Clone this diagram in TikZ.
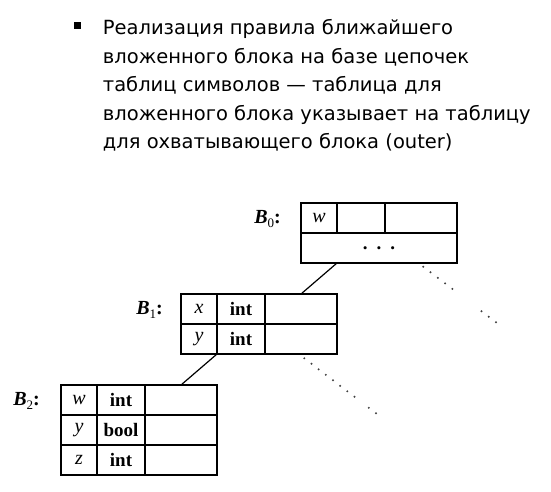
\documentclass[tikz,border=0pt]{standalone}
\usepackage{fontspec}
\usetikzlibrary{calc}
\setmainfont{Liberation Serif}
\newfontfamily\headfont{DejaVu Sans}
\begin{document}
\begin{tikzpicture}[x=1pt,y=-1pt,
  cell/.style={draw, line width=1.2pt, minimum height=30pt, inner sep=0pt, outer sep=0pt, anchor=north west, font=\fontsize{19}{21}\selectfont},
  var/.style={font=\fontsize{20}{22}\selectfont\itshape},
  typ/.style={font=\fontsize{19}{21}\selectfont\bfseries},
  headline/.style={anchor=base west, inner sep=0pt, font=\headfont\fontsize{19.5}{24}\selectfont, text=black},
  lab/.style={anchor=east, inner sep=0pt, font=\fontsize{20}{22}\selectfont},
  link/.style={line width=1.2pt},
  dotmark/.style={fill=black!75, draw=none}
]
\useasboundingbox (0,0) rectangle (551,491);
% heading
\fill[black] (73.5,22.2) rectangle (80.5,29.2);
\node[headline] (h1) at (102.7,34.3) {Реализация правила ближайшего};
\node[headline] (h2) at (102.7,63) {вложенного блока на базе цепочек};
\node[headline] (h3) at (102.7,91.5) {таблиц символов — таблица для};
\node[headline] (h4) at (102.7,120) {вложенного блока указывает на таблицу};
\node[headline] (h5) at (102.7,148.5) {для охватывающего блока (outer)};
% B0
\node[cell, var, minimum width=36pt] (b0a) at (301,203) {w};
\node[cell, minimum width=48pt] (b0b) at (337,203) {};
\node[cell, minimum width=72pt] (b0c) at (385,203) {};
\node[cell, typ, minimum width=156pt] (b0d) at (301,233) {.\hspace{9pt}.\hspace{9pt}.};
% B1
\node[cell, var, minimum width=36pt] (b1a) at (181,294) {x};
\node[cell, typ, minimum width=48pt] (b1b) at (217,294) {int};
\node[cell, minimum width=72pt] (b1c) at (265,294) {};
\node[cell, var, minimum width=36pt] (b1d) at (181,324) {y};
\node[cell, typ, minimum width=48pt] (b1e) at (217,324) {int};
\node[cell, minimum width=72pt] (b1f) at (265,324) {};
% B2
\node[cell, var, minimum width=36pt] (b2a) at (61,385) {w};
\node[cell, typ, minimum width=48pt] (b2b) at (97,385) {int};
\node[cell, minimum width=72pt] (b2c) at (145,385) {};
\node[cell, var, minimum width=36pt] (b2d) at (61,415) {y};
\node[cell, typ, minimum width=48pt] (b2e) at (97,415) {bool};
\node[cell, minimum width=72pt] (b2f) at (145,415) {};
\node[cell, var, minimum width=36pt] (b2g) at (61,445) {z};
\node[cell, typ, minimum width=48pt] (b2h) at (97,445) {int};
\node[cell, minimum width=72pt] (b2i) at (145,445) {};
% labels
\node[lab] (l0) at ([xshift=-20pt,yshift=-1pt]b0a.west) {{\bfseries\itshape B}\raisebox{-0.35ex}{\fontsize{13}{13}\selectfont 0}{\bfseries :}};
\node[lab] (l1) at ([xshift=-18pt,yshift=-1pt]b1a.west) {{\bfseries\itshape B}\raisebox{-0.35ex}{\fontsize{13}{13}\selectfont 1}{\bfseries :}};
\node[lab] (l2) at ([xshift=-21pt,yshift=-1pt]b2a.west) {{\bfseries\itshape B}\raisebox{-0.35ex}{\fontsize{13}{13}\selectfont 2}{\bfseries :}};
% connectors
\coordinate (c0) at (b0a.east |- b0d.south);
\draw[link] (c0) -- (b1c.north);
\draw[link] (b1d.south east) -- (b2c.north);
% dotted pointers
\coordinate (d0) at ([xshift=-33.7pt,yshift=-3.7pt]b0d.south east);
\foreach \k in {0,1,2,3,4,8,9,10} \fill[dotmark] ($(d0)+(\k*7.27,\k*5.56)$) circle (1.1pt);
\coordinate (d1) at ([xshift=-32.7pt,yshift=-4.3pt]b1f.south east);
\foreach \k in {0,1,2,3,4,5,6,7,9,10} \fill[dotmark] ($(d1)+(\k*7.17,\k*5.5)$) circle (1.1pt);
\end{tikzpicture}
\end{document}
